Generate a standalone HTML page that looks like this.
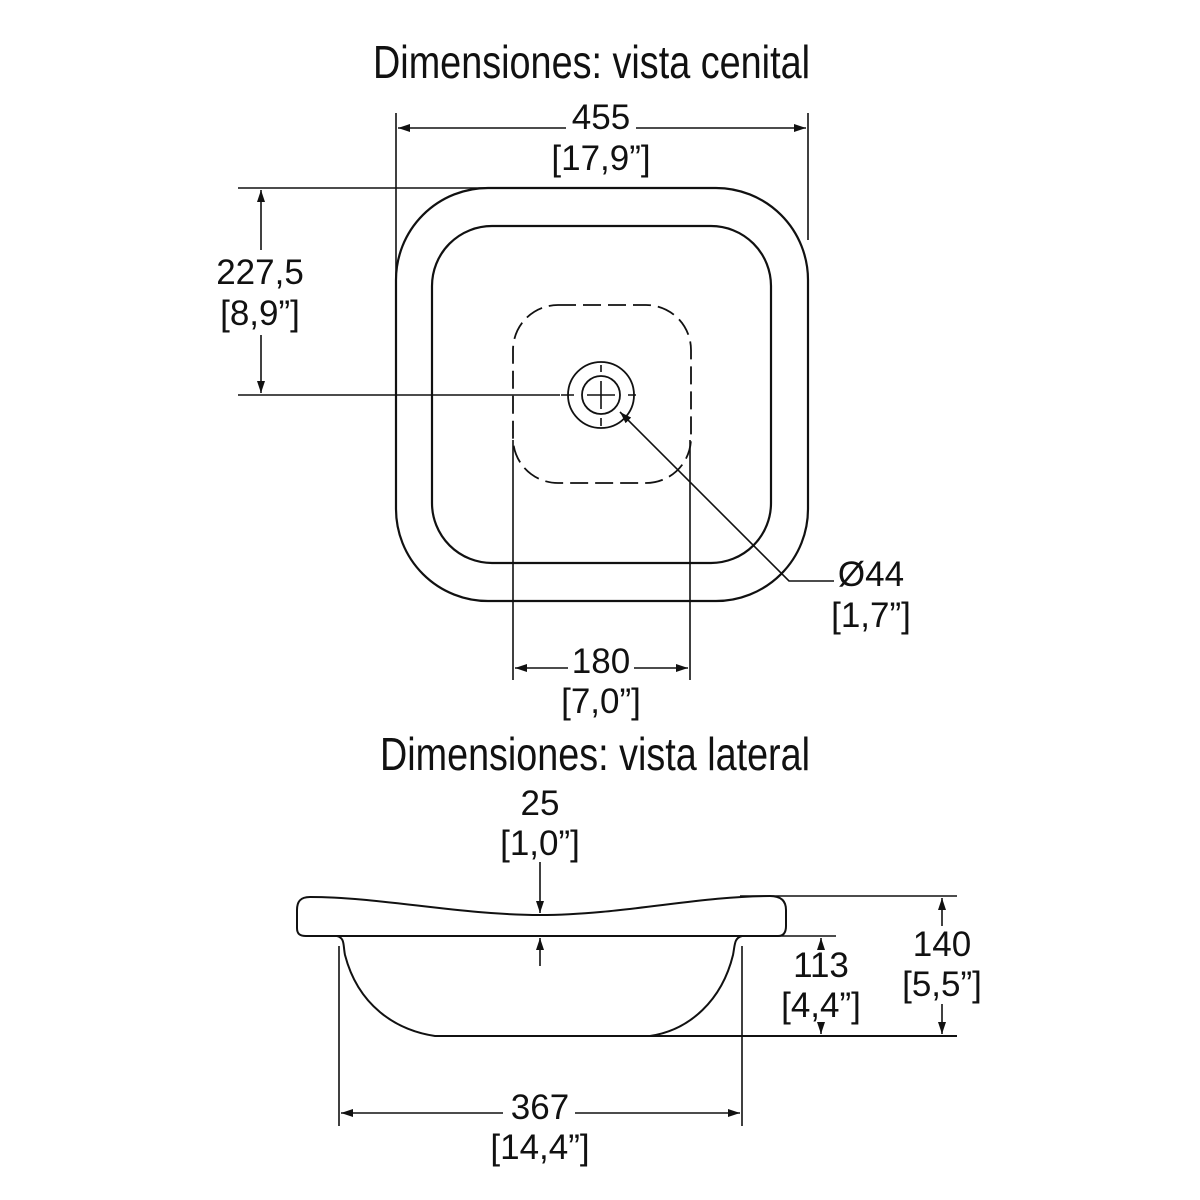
<!DOCTYPE html>
<html><head><meta charset="utf-8"><style>
html,body{margin:0;padding:0;background:#fff;}
svg{display:block;}
text{font-family:"Liberation Sans Narrow","Liberation Sans",sans-serif;fill:#111;}
</style></head><body>
<svg width="1200" height="1200" viewBox="0 0 1200 1200" xmlns="http://www.w3.org/2000/svg">
<defs>
<marker id="a" viewBox="0 0 12 8" refX="12" refY="4" markerWidth="12" markerHeight="8" markerUnits="userSpaceOnUse" orient="auto-start-reverse"><path d="M0,0 L12,4 L0,8 z" fill="#111"/></marker>
</defs>
<g stroke="#111" fill="none" stroke-width="1.6">
<rect x="396" y="188" width="412" height="413" rx="92" ry="92" stroke-width="2.2"/>
<rect x="432" y="226" width="339" height="337" rx="60" ry="60" stroke-width="2.2"/>
<rect x="513" y="305" width="178" height="178" rx="45" ry="45" stroke-dasharray="18,7" stroke-width="1.8"/>
<circle cx="601" cy="395" r="33" stroke-width="1.8"/>
<circle cx="601" cy="395" r="19" stroke-width="1.8"/>
<path d="M587 395 H615 M601 381 V409 M561 395 H574 M628 395 H636 M601 365 V372 M601 418 V426"/>
<path d="M396 113 V290 M808 113 V240"/>
<path d="M398 128 H566" marker-start="url(#a)"/>
<path d="M636 128 H806" marker-end="url(#a)"/>
<path d="M238 188 H485 M238 395 H560"/>
<path d="M261 250 V190" marker-end="url(#a)"/>
<path d="M261 335 V393" marker-end="url(#a)"/>
<path d="M513 440 V680 M690 440 V680"/>
<path d="M568 668 H515" marker-end="url(#a)"/>
<path d="M634 668 H688" marker-end="url(#a)"/>
<path d="M834 581 H789 L620 412" marker-end="url(#a)"/>
<path d="M310 897 C300 897 297 902 297 910 V928 C297 934 300 936 306 936 H778 C784 936 786 932 786 926 V910 C786 902 782 896 770 896 C700 896 620 915 540 915 C460 915 380 897 310 897 Z" stroke-width="2"/>
<path d="M337 936 C345 938 343 945 345 955 C358 1005 395 1030 435 1036 H650 M628 1036 H957 M742 936 C734 938 735 945 733 955 C722 1000 690 1030 650 1036" stroke-width="2"/>
<path d="M339 946 V1126 M742 946 V1126"/>
<path d="M503 1113 H341" marker-end="url(#a)"/>
<path d="M575 1113 H740" marker-end="url(#a)"/>
<path d="M740 896 H957 M760 936 H836"/>
<path d="M942 926 V898" marker-end="url(#a)"/>
<path d="M942 1004 V1034" marker-end="url(#a)"/>
<path d="M821 950 V938" marker-end="url(#a)"/>
<path d="M821 1024 V1034" marker-end="url(#a)"/>
<path d="M540 862 V913" marker-end="url(#a)"/>
<path d="M540 966 V938" marker-end="url(#a)"/>
</g>
<g font-size="46">
<text x="373" y="78" textLength="437" lengthAdjust="spacingAndGlyphs">Dimensiones: vista cenital</text>
<text x="380" y="770" textLength="430" lengthAdjust="spacingAndGlyphs">Dimensiones: vista lateral</text>
</g>
<g font-size="35" text-anchor="middle">
<text x="601" y="129">455</text>
<text x="601" y="170">[17,9”]</text>
<text x="260" y="284">227,5</text>
<text x="260" y="325">[8,9”]</text>
<text x="601" y="673">180</text>
<text x="601" y="713">[7,0”]</text>
<text x="871" y="586">Ø44</text>
<text x="871" y="627">[1,7”]</text>
<text x="540" y="815">25</text>
<text x="540" y="855">[1,0”]</text>
<text x="942" y="956">140</text>
<text x="942" y="996">[5,5”]</text>
<text x="821" y="977">113</text>
<text x="821" y="1017">[4,4”]</text>
<text x="540" y="1119">367</text>
<text x="540" y="1159">[14,4”]</text>
</g>
</svg>
</body></html>
